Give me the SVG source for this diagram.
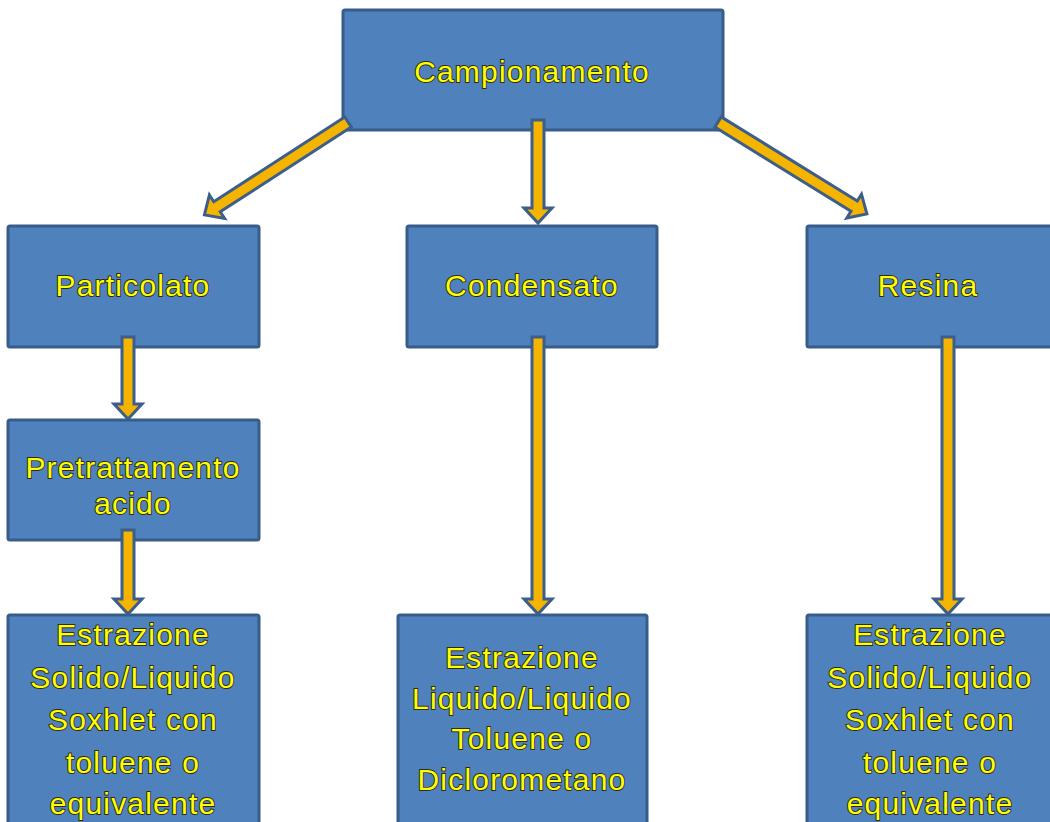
<svg xmlns="http://www.w3.org/2000/svg" width="1050" height="822" viewBox="0 0 1050 822">
<style>
.box{fill:#4F81BD;stroke:#385D8A;stroke-width:3}
.t{font-family:"Liberation Sans",Arial,sans-serif;font-size:30px;letter-spacing:1.2px;fill:#FFFF00;stroke:#2e2a1a;stroke-width:1.8;paint-order:stroke;text-anchor:middle}
.arr{fill:#F5B400;stroke:#3B5E8A;stroke-width:3;stroke-linejoin:miter}
</style>
<rect width="1050" height="822" fill="#ffffff"/>
<g id="n-campionamento"><rect class="box" x="343" y="10" width="380" height="120" rx="2"/><text class="t" x="532" y="82">Campionamento</text></g>
<g id="n-particolato"><rect class="box" x="8" y="226" width="251" height="121" rx="2"/><text class="t" x="133" y="296">Particolato</text></g>
<g id="n-condensato"><rect class="box" x="407" y="226" width="250" height="121" rx="2"/><text class="t" x="532" y="296">Condensato</text></g>
<g id="n-resina"><rect class="box" x="807" y="226" width="250" height="121" rx="2"/><text class="t" x="928" y="296">Resina</text></g>
<g id="n-pretrattamento"><rect class="box" x="8" y="420" width="251" height="120" rx="2"/><text class="t" x="133" y="478">Pretrattamento</text><text class="t" x="133" y="514">acido</text></g>
<g id="n-estr-left"><rect class="box" x="8" y="615" width="251" height="215" rx="2"/>
<text class="t" x="133" y="645">Estrazione</text><text class="t" x="133" y="688">Solido/Liquido</text><text class="t" x="133" y="730">Soxhlet con</text><text class="t" x="133" y="773">toluene o</text><text class="t" x="133" y="814">equivalente</text></g>
<g id="n-estr-mid"><rect class="box" x="398" y="615" width="249" height="215" rx="2"/>
<text class="t" x="522" y="668">Estrazione</text><text class="t" x="522" y="709">Liquido/Liquido</text><text class="t" x="522" y="749">Toluene o</text><text class="t" x="522" y="790">Diclorometano</text></g>
<g id="n-estr-right"><rect class="box" x="807" y="615" width="250" height="215" rx="2"/>
<text class="t" x="930" y="645">Estrazione</text><text class="t" x="930" y="688">Solido/Liquido</text><text class="t" x="930" y="730">Soxhlet con</text><text class="t" x="930" y="773">toluene o</text><text class="t" x="930" y="814">equivalente</text></g>
<g id="connectors">
<path class="arr" transform="translate(348,122) rotate(147.1)" d="M0,-6 L156,-6 L156,-14 L171,0 L156,14 L156,6 L0,6 Z"/>
<path class="arr" transform="translate(718,122) rotate(31.7)" d="M0,-6 L160,-6 L160,-14 L175,0 L160,14 L160,6 L0,6 Z"/>
<path class="arr" d="M532,120 L544,120 L544,208 L552,208 L538,223 L524,208 L532,208 Z"/>
<path class="arr" d="M122,337 L134,337 L134,404 L142,404 L128,419 L114,404 L122,404 Z"/>
<path class="arr" d="M122,530 L134,530 L134,599 L142,599 L128,614 L114,599 L122,599 Z"/>
<path class="arr" d="M532,337 L544,337 L544,599 L552,599 L538,614 L524,599 L532,599 Z"/>
<path class="arr" d="M942,337 L954,337 L954,599 L962,599 L948,614 L934,599 L942,599 Z"/>
</g>
</svg>
